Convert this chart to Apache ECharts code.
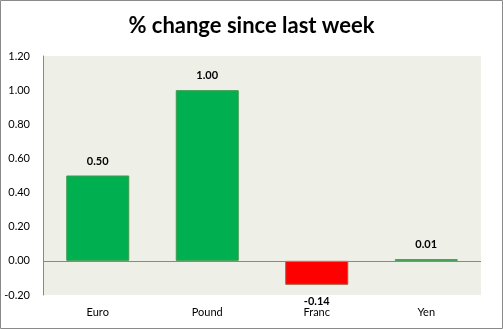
<!DOCTYPE html>
<html><head><meta charset="utf-8">
<script src="https://cdn.jsdelivr.net/npm/echarts@6/dist/echarts.min.js"></script>
<style>html,body{margin:0;padding:0;background:#fff}#c{width:503px;height:329px}</style>
</head><body><div id="c"></div>
<script>
const categories = ["Euro", "Pound", "Franc", "Yen"];
const values = [0.50, 1.00, -0.14, 0.01];
const yTicks = {min: -0.2, max: 1.2, interval: 0.2};

const chart = echarts.init(document.getElementById('c'), null, {renderer: 'canvas'});
const FONT = 'Lato';
chart.setOption({
  animation: false,
  title: {
    text: '% change since last week', left: 'center', top: 10,
    textStyle: {fontFamily: FONT, fontWeight: 'bold', fontSize: 22, color: '#000'}
  },
  graphic: [{type: 'rect', shape: {x: 0.5, y: 0.5, width: 502, height: 328},
    style: {fill: 'none', stroke: '#8a8a8a', lineWidth: 1}, silent: true, z: 100}],
  grid: {left: 43, right: 22, top: 56, bottom: 34, show: true, backgroundColor: '#EEEFE7', borderWidth: 0},
  xAxis: {
    type: 'category', data: categories,
    axisLine: {show: false}, axisTick: {show: false},
    axisLabel: {fontFamily: FONT, fontSize: 11, color: '#000', margin: 12},
    splitLine: {show: false}
  },
  yAxis: {
    type: 'value', min: yTicks.min, max: yTicks.max, interval: yTicks.interval,
    axisLine: {show: true, lineStyle: {color: '#888', width: 1}},
    axisTick: {show: false},
    splitLine: {show: false},
    axisLabel: {fontFamily: FONT, fontSize: 11, color: '#000', margin: 13,
      formatter: v => v.toFixed(2)}
  },
  series: [{
    type: 'bar', barWidth: 63,
    data: values.map(v => ({
      value: v,
      itemStyle: v < 0 ? {color: '#FF0000', borderColor: '#9C5A3C', borderWidth: 1}
                       : {color: '#00B050', borderColor: '#3E9A4E', borderWidth: 1},
      label: {position: v < 0 ? 'bottom' : 'top', distance: v < 0 ? 11 : 9}
    })),
    label: {show: true, fontFamily: FONT, fontWeight: 'bold', fontSize: 11, color: '#000',
      formatter: p => p.value.toFixed(2)},
    markLine: {silent: true, symbol: 'none', label: {show: false},
      lineStyle: {color: '#888', width: 1, type: 'solid'}, data: [{yAxis: 0}]}
  }]
});
</script></body></html>
